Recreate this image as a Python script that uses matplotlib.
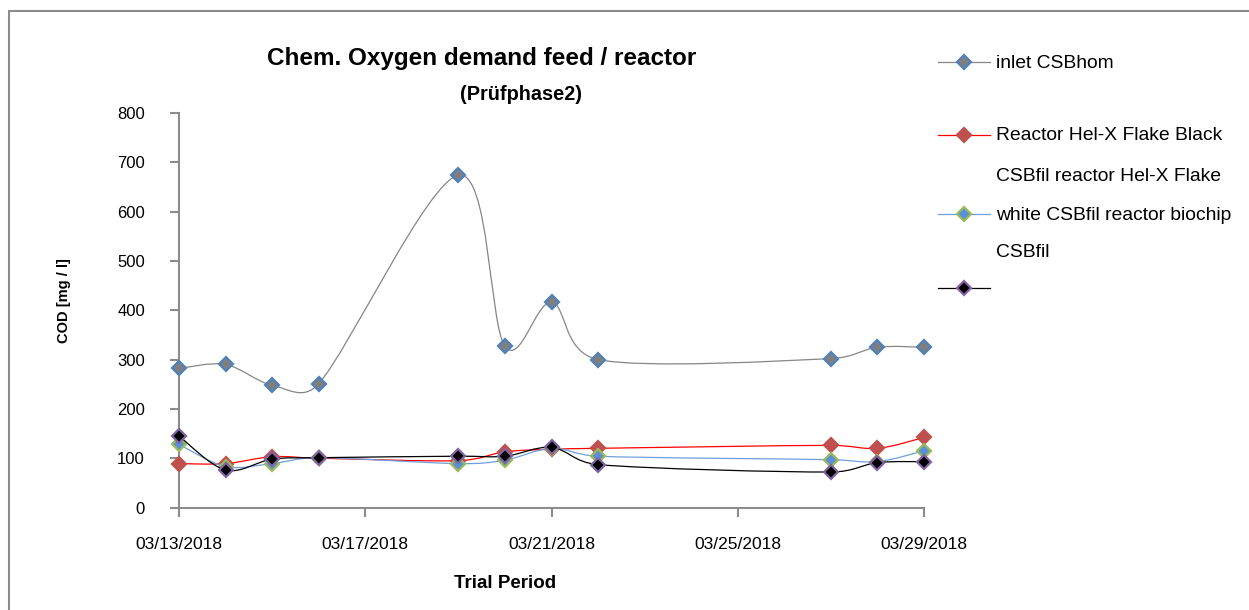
import matplotlib
matplotlib.use("Agg")
import matplotlib.pyplot as plt
import matplotlib.dates as mdates
from matplotlib.path import Path
from matplotlib.patches import PathPatch, Rectangle
from matplotlib.lines import Line2D
import numpy as np
import datetime as dt

plt.rcParams['font.family'] = ['Liberation Sans', 'DejaVu Sans']

dates = ["2018-03-13", "2018-03-14", "2018-03-15", "2018-03-16", "2018-03-19",
         "2018-03-20", "2018-03-21", "2018-03-22", "2018-03-27", "2018-03-28",
         "2018-03-29"]
inlet = [282, 290, 248, 251, 674, 327, 416, 300, 302, 325, 325]
reactor_black = [89, 89, 103, 100, 95, 113, 118, 120, 126, 120, 142]
reactor_white = [128, 83, 89, 101, 89, 96, 120, 104, 97, 93, 115]
reactor_biochip = [145, 76, 98, 101, 104, 104, 122, 87, 72, 91, 93]

series_labels = ["inlet CSBhom", "Reactor Hel-X Flake Black", "CSBfil reactor Hel-X Flake",
                 "white CSBfil reactor biochip", "CSBfil"]
title = "Chem. Oxygen demand feed / reactor"
subtitle = "(Prüfphase2)"
xlabel = "Trial Period"
ylabel = "COD [mg / l]"
yticks = [0, 100, 200, 300, 400, 500, 600, 700, 800]
xtick_dates = ["2018-03-13", "2018-03-17", "2018-03-21", "2018-03-25", "2018-03-29"]

W, H = 1249, 610
fig = plt.figure(figsize=(W / 100, H / 100), dpi=100)

def fx(px):
    return px / W

def fy(py):
    return 1 - py / H

# outer chart frame
fig.add_artist(Rectangle((fx(9), fy(H + 20)), 1.2, fy(11) - fy(H + 20),
                         transform=fig.transFigure, fill=False,
                         edgecolor="#8c8c8c", linewidth=1.5))

ax = fig.add_axes([fx(179), fy(507.5), fx(924) - fx(179), fy(113) - fy(507.5)])

xd = mdates.date2num([dt.datetime.strptime(d, "%Y-%m-%d") for d in dates])

x0 = mdates.date2num(dt.datetime(2018, 3, 13))
x1 = mdates.date2num(dt.datetime(2018, 3, 29))
ax.set_xlim(x0, x1)
ax.set_ylim(0, 800)


def smooth_path(x, y):
    """Excel-style smoothed line: Bezier segments with control points clamped
    to half the segment length (computed in display space)."""
    pts = ax.transData.transform(np.column_stack([x, y]).astype(float))
    n = len(pts)
    verts = [pts[0]]
    codes = [Path.MOVETO]
    for i in range(n - 1):
        p1 = pts[i]
        p2 = pts[i + 1]
        p0 = pts[i - 1] if i > 0 else p1
        p3 = pts[i + 2] if i + 2 < n else p2
        d02 = np.hypot(*(p2 - p0))
        d12 = np.hypot(*(p2 - p1))
        d13 = np.hypot(*(p3 - p1))
        f0 = 1 / 6 if d02 / 6 < d12 / 2 else (d12 / 2) / d02
        f1 = 1 / 6 if d13 / 6 < d12 / 2 else (d12 / 2) / d13
        c1 = p1 + (p2 - p0) * f0
        c2 = p2 - (p3 - p1) * f1
        verts += [c1, c2, p2]
        codes += [Path.CURVE4] * 3
    verts = ax.transData.inverted().transform(np.array(verts))
    return Path(verts, codes)

styles = [
    (inlet, "#868686", "#7f7f7f", "#4f81bd"),
    (reactor_black, "#ff0000", "#c0504d", "#c0504d"),
    (reactor_white, "#6f9fdc", "#5b8fd6", "#9bbb59"),
    (reactor_biochip, "#000000", "#000000", "#8064a2"),
]

MS = 7.6
MEW = 1.6
for k, (vals, lc, fc, ec) in enumerate(styles):
    ax.add_patch(PathPatch(smooth_path(xd, vals), facecolor="none", edgecolor=lc,
                           linewidth=0.9, zorder=2 + 2 * k))
    ax.plot(xd, vals, linestyle="none", marker="D", markersize=MS,
            markerfacecolor=fc, markeredgecolor=ec, markeredgewidth=MEW,
            zorder=3 + 2 * k, clip_on=False)

ax.set_yticks(yticks)
ax.set_xticks(mdates.date2num([dt.datetime.strptime(d, "%Y-%m-%d") for d in xtick_dates]))
ax.xaxis.set_major_formatter(mdates.DateFormatter("%m/%d/%Y"))

for s in ["top", "right"]:
    ax.spines[s].set_visible(False)
for s in ["left", "bottom"]:
    ax.spines[s].set_color("#8c8c8c")
    ax.spines[s].set_linewidth(1.5)
ax.tick_params(axis="y", direction="out", length=6.5, width=1.5, color="#8c8c8c",
               labelsize=12, pad=18)
ax.tick_params(axis="x", direction="out", length=6.5, width=1.5, color="#8c8c8c",
               labelsize=12.5, pad=15)
ax.patch.set_alpha(0)

fig.text(fx(482), fy(58), title, ha="center", va="center", fontsize=17.5, fontweight="bold")
fig.text(fx(521), fy(94), subtitle, ha="center", va="center", fontsize=14.3, fontweight="bold")
fig.text(fx(505), fy(584), xlabel, ha="center", va="center", fontsize=13.5, fontweight="bold")
fig.text(fx(64), fy(301), ylabel, ha="center", va="center", rotation=90,
         fontsize=10.5, fontweight="bold")

# legend (laid out as in the reference)
handle_rows = [62, 135, 214, 288]
for (vals, lc, fc, ec), yy in zip(styles, handle_rows):
    fig.add_artist(Line2D([fx(938), fx(990)], [fy(yy), fy(yy)], color=lc, linewidth=0.9,
                          transform=fig.transFigure))
    fig.add_artist(Line2D([fx(964)], [fy(yy)], linestyle="none", marker="D", markersize=MS,
                          markerfacecolor=fc, markeredgecolor=ec, markeredgewidth=MEW,
                          transform=fig.transFigure))
text_rows = [63, 136, 177, 215, 253]
for lab, yy in zip(series_labels, text_rows):
    fig.text(fx(996), fy(yy), lab, ha="left", va="center", fontsize=13.9)

fig.savefig("out.png", dpi=100)
